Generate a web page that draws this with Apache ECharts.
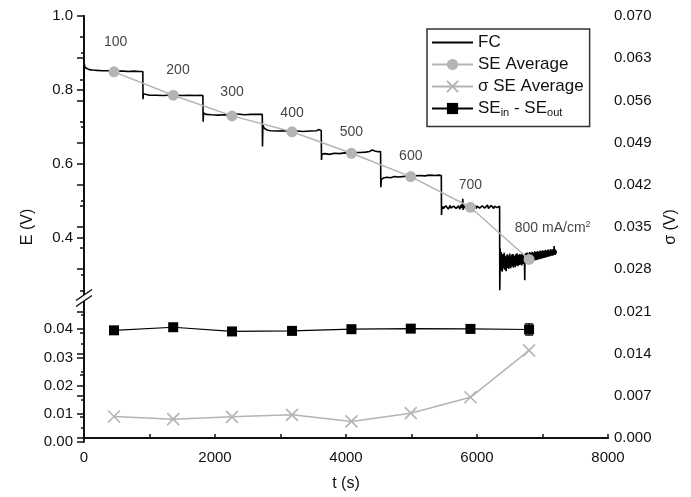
<!DOCTYPE html>
<html>
<head>
<meta charset="utf-8">
<script src="https://cdn.jsdelivr.net/npm/echarts@6/dist/echarts.min.js"></script>
<style>
  html, body { margin: 0; padding: 0; background: #fff; }
  #chart { width: 691px; height: 497px; }
</style>
</head>
<body>
<div id="chart"></div>
<script>
// Fuel-cell voltage trace [t (s), E (V)], one array per current-density step
const fcStep100 = [
  [0, 0.650], [3, 0.872], [15, 0.861], [40, 0.858], [80, 0.855], [130, 0.854], [200, 0.853],
  [280, 0.852], [360, 0.852], [440, 0.851], [520, 0.851], [600, 0.851], [680, 0.850],
  [760, 0.851], [840, 0.850], [898, 0.850]
];
const fcStep200 = [
  [901, 0.775], [906, 0.790], [930, 0.787], [1000, 0.786], [1100, 0.786], [1200, 0.785],
  [1300, 0.786], [1400, 0.786], [1500, 0.785], [1600, 0.786], [1700, 0.785], [1780, 0.786], [1815, 0.785]
];
const fcStep300 = [
  [1819, 0.714], [1825, 0.738], [1860, 0.734], [1950, 0.733], [2050, 0.732], [2150, 0.733],
  [2250, 0.731], [2300, 0.736], [2330, 0.733], [2450, 0.733], [2550, 0.734], [2650, 0.734], [2722, 0.734]
];
const fcStep400 = [
  [2725, 0.647], [2730, 0.705], [2750, 0.697], [2790, 0.692], [2850, 0.690], [2950, 0.689],
  [3050, 0.690], [3150, 0.688], [3250, 0.689], [3350, 0.688], [3450, 0.689], [3550, 0.690],
  [3590, 0.693], [3622, 0.690]
];
const fcStep500 = [
  [3626, 0.611], [3632, 0.627], [3680, 0.628], [3750, 0.626], [3820, 0.629], [3900, 0.628],
  [3980, 0.630], [4060, 0.629], [4140, 0.631], [4220, 0.631], [4300, 0.632], [4360, 0.634],
  [4400, 0.638], [4420, 0.641], [4440, 0.635], [4490, 0.633], [4528, 0.634]
];
const fcStep600 = [
  [4532, 0.537], [4538, 0.558], [4570, 0.562], [4620, 0.564], [4680, 0.563], [4740, 0.566],
  [4800, 0.565], [4860, 0.566], [4920, 0.567], [4980, 0.566], [5050, 0.568], [5120, 0.569],
  [5200, 0.568], [5280, 0.570], [5360, 0.569], [5420, 0.570], [5455, 0.569]
];
const fcStep700 = [
  [5458, 0.462], [5463, 0.478], [5475, 0.486], [5488, 0.480], [5500, 0.484], [5512, 0.479],
  [5525, 0.487], [5537, 0.482], [5550, 0.485], [5562, 0.478], [5575, 0.483], [5590, 0.488],
  [5602, 0.481], [5615, 0.484], [5630, 0.479], [5642, 0.486], [5655, 0.483], [5668, 0.489],
  [5680, 0.480], [5695, 0.485], [5708, 0.482], [5720, 0.487], [5735, 0.478], [5748, 0.484],
  [5760, 0.490], [5772, 0.481], [5783, 0.506], [5790, 0.476], [5802, 0.486], [5815, 0.482],
  [5828, 0.488], [5840, 0.480], [5855, 0.485], [5868, 0.483], [5880, 0.489], [5895, 0.479],
  [5908, 0.486], [5920, 0.482], [5935, 0.488], [5948, 0.481], [5960, 0.484], [5975, 0.487],
  [5988, 0.480], [6000, 0.486], [6015, 0.483], [6028, 0.489], [6040, 0.481], [6055, 0.485],
  [6068, 0.480], [6080, 0.487], [6095, 0.483], [6108, 0.488], [6120, 0.481], [6135, 0.486],
  [6148, 0.484], [6160, 0.489], [6175, 0.480], [6188, 0.485], [6200, 0.482], [6215, 0.488],
  [6228, 0.483], [6240, 0.487], [6255, 0.480], [6268, 0.486], [6280, 0.484], [6295, 0.489],
  [6308, 0.482], [6320, 0.486], [6333, 0.483], [6345, 0.486]
];
const fcStep800 = [
  [6348, 0.259], [6351, 0.300], [6354, 0.372], [6358, 0.330], [6362, 0.355], [6366, 0.312],
  [6370, 0.362], [6375, 0.325], [6380, 0.348], [6385, 0.309], [6390, 0.340], [6395, 0.357],
  [6400, 0.318], [6405, 0.346], [6410, 0.327], [6415, 0.360], [6420, 0.314], [6425, 0.338],
  [6430, 0.352], [6435, 0.321], [6440, 0.344], [6445, 0.310], [6450, 0.349], [6455, 0.330],
  [6460, 0.356], [6465, 0.319], [6470, 0.341], [6475, 0.326], [6480, 0.353], [6485, 0.316],
  [6490, 0.345], [6495, 0.333], [6500, 0.358], [6505, 0.322], [6510, 0.340], [6515, 0.318],
  [6520, 0.350], [6525, 0.328], [6530, 0.355], [6535, 0.323], [6540, 0.343], [6545, 0.331],
  [6550, 0.357], [6555, 0.320], [6560, 0.346], [6565, 0.334], [6570, 0.352], [6575, 0.325],
  [6580, 0.348], [6585, 0.321], [6590, 0.356], [6595, 0.331], [6600, 0.345], [6605, 0.326],
  [6610, 0.359], [6615, 0.329], [6620, 0.342], [6625, 0.324], [6630, 0.354], [6635, 0.335],
  [6640, 0.349], [6645, 0.327], [6650, 0.357], [6655, 0.332], [6660, 0.344], [6665, 0.328],
  [6670, 0.355], [6675, 0.336], [6680, 0.350], [6685, 0.326], [6690, 0.358], [6695, 0.333],
  [6700, 0.347], [6705, 0.330], [6710, 0.356], [6715, 0.337], [6720, 0.345], [6725, 0.331],
  [6729, 0.286], [6733, 0.348], [6738, 0.334], [6743, 0.359], [6748, 0.336], [6753, 0.350],
  [6758, 0.331], [6763, 0.361], [6768, 0.338], [6773, 0.352], [6778, 0.334], [6783, 0.358],
  [6788, 0.340], [6793, 0.349], [6798, 0.333], [6803, 0.362], [6808, 0.339], [6813, 0.353],
  [6818, 0.336], [6823, 0.360], [6828, 0.342], [6833, 0.351], [6838, 0.337], [6843, 0.363],
  [6848, 0.341], [6853, 0.355], [6858, 0.338], [6863, 0.361], [6868, 0.344], [6873, 0.352],
  [6878, 0.339], [6883, 0.364], [6888, 0.343], [6893, 0.357], [6898, 0.340], [6903, 0.362],
  [6908, 0.346], [6913, 0.354], [6918, 0.341], [6923, 0.365], [6928, 0.345], [6933, 0.358],
  [6938, 0.342], [6943, 0.363], [6948, 0.348], [6953, 0.356], [6958, 0.343], [6963, 0.366],
  [6968, 0.347], [6973, 0.359], [6978, 0.344], [6983, 0.364], [6988, 0.349], [6993, 0.357],
  [6998, 0.345], [7003, 0.367], [7008, 0.348], [7013, 0.360], [7018, 0.346], [7023, 0.365],
  [7028, 0.351], [7033, 0.358], [7038, 0.347], [7043, 0.368], [7048, 0.350], [7053, 0.361],
  [7058, 0.348], [7063, 0.366], [7068, 0.352], [7073, 0.359], [7078, 0.349], [7083, 0.369],
  [7088, 0.351], [7093, 0.362], [7098, 0.350], [7103, 0.367], [7108, 0.354], [7113, 0.360],
  [7118, 0.351], [7123, 0.370], [7128, 0.353], [7133, 0.363], [7138, 0.352], [7143, 0.368],
  [7148, 0.355], [7153, 0.362], [7158, 0.352], [7163, 0.370], [7168, 0.356], [7173, 0.364],
  [7178, 0.378], [7183, 0.355], [7188, 0.366], [7193, 0.354], [7198, 0.369], [7203, 0.357],
  [7208, 0.364], [7213, 0.360]
];

// Mid-step sampling times (s) shared by the averaged quantities
const sampleTime = [458, 1362, 2260, 3176, 4083, 4989, 5900, 6795];
// Averaged single-electrode potential (V, left upper axis)
const seAverage = [0.849, 0.786, 0.730, 0.687, 0.629, 0.566, 0.483, 0.342];
// Standard deviation of the single-electrode potentials (V, right axis)
const seSigma = [0.00357, 0.00313, 0.00351, 0.00384, 0.00275, 0.00412, 0.00675, 0.01454];
// Inlet minus outlet single-electrode potential (V, left lower axis) and its error
const seDiff = [0.0396, 0.0407, 0.0392, 0.0394, 0.0400, 0.0402, 0.0401, 0.0399];
const seDiffErr = [0.0004, 0.0008, 0.0003, 0.0003, 0.0004, 0.0003, 0.0003, 0.0020];

// Current density annotations for each step
const stepLabels = ['100', '200', '300', '400', '500', '600', '700', '800 mA/cm{sup|2}'];
const stepLabelTime = [484, 1435, 2260, 3176, 4083, 4989, 5900, 6577];
const stepLabelVolt = [0.929, 0.854, 0.795, 0.737, 0.685, 0.620, 0.543, 0.426];

// Axis tick values
const upperMajor = [0.4, 0.6, 0.8, 1.0];
const upperMinor = [0.3, 0.5, 0.7, 0.9];
const lowerMajor = [0.00, 0.01, 0.02, 0.03, 0.04];
const lowerMinor = [0.005, 0.015, 0.025, 0.035, 0.045];

const fcTrace = [].concat(fcStep100, fcStep200, fcStep300, fcStep400,
                          fcStep500, fcStep600, fcStep700, fcStep800);

const FONT = 'Liberation Sans, Arial, sans-serif';
const INK = '#111';
const GREY = '#b4b4b4';
const TICK_FONT = 15;

const chart = echarts.init(document.getElementById('chart'), null, { renderer: 'canvas' });

const L = 84, R = 83, TOP = 16, BOTTOM = 55;
const upperBottomY = 293.5, lowerTopY = 301;

const hiddenX = (gridIndex) => ({
  type: 'value', gridIndex: gridIndex, min: 0, max: 8000, show: false
});

const lineAxis = { show: true, lineStyle: { color: INK, width: 1.8 } };
const tickLine = { color: INK, width: 1.5 };

const option = {
  animation: false,
  textStyle: { fontFamily: FONT },
  grid: [
    { left: L, right: R, top: TOP, height: upperBottomY - TOP },
    { left: L, right: R, top: lowerTopY, height: 497 - BOTTOM - lowerTopY },
    { left: L, right: R, top: TOP, bottom: BOTTOM }
  ],
  xAxis: [
    hiddenX(0),
    hiddenX(1),
    {
      type: 'value', gridIndex: 2, min: 0, max: 8000, interval: 2000, position: 'bottom',
      axisLine: lineAxis,
      axisTick: { show: true, inside: true, length: 4, lineStyle: tickLine },
      minorTick: { show: true, splitNumber: 2, length: 4, lineStyle: tickLine },
      axisLabel: { color: INK, fontSize: TICK_FONT, fontFamily: FONT, margin: 12,
                   formatter: (v) => String(v) },
      splitLine: { show: false },
      name: 't (s)', nameLocation: 'middle', nameGap: 38,
      nameTextStyle: { color: INK, fontSize: 16, fontFamily: FONT }
    },
    {
      type: 'value', gridIndex: 2, min: 0, max: 8000, position: 'top',
      axisLine: lineAxis, axisTick: { show: false }, axisLabel: { show: false },
      splitLine: { show: false }
    }
  ],
  yAxis: [
    {
      type: 'value', gridIndex: 0, min: 0.25, max: 1.0, position: 'left',
      axisLine: lineAxis,
      axisTick: { show: true, length: 7, customValues: upperMajor, lineStyle: tickLine },
      axisLabel: {
        customValues: upperMajor, color: INK, fontSize: TICK_FONT, fontFamily: FONT, margin: 11,
        formatter: (v) => v.toFixed(1)
      },
      splitLine: { show: false }
    },
    {
      type: 'value', gridIndex: 0, min: 0.25, max: 1.0, position: 'left',
      axisLine: { show: false },
      axisTick: { show: true, length: 3, customValues: upperMinor, lineStyle: tickLine },
      axisLabel: { show: false },
      splitLine: { show: false }
    },
    {
      type: 'value', gridIndex: 1, min: 0, max: 0.05, position: 'left',
      axisLine: lineAxis,
      axisTick: { show: true, length: 7, customValues: lowerMajor, lineStyle: tickLine },
      axisLabel: {
        customValues: lowerMajor, color: INK, fontSize: TICK_FONT, fontFamily: FONT, margin: 11,
        formatter: (v) => v.toFixed(2)
      },
      splitLine: { show: false }
    },
    {
      type: 'value', gridIndex: 1, min: 0, max: 0.05, position: 'left',
      axisLine: { show: false },
      axisTick: { show: true, length: 3, customValues: lowerMinor, lineStyle: tickLine },
      axisLabel: { show: false },
      splitLine: { show: false }
    },
    {
      type: 'value', gridIndex: 2, min: 0, max: 0.07, interval: 0.007, position: 'right',
      axisLine: lineAxis,
      axisTick: { show: true, inside: true, length: 7, lineStyle: tickLine },
      minorTick: { show: true, splitNumber: 2, length: 4, lineStyle: tickLine },
      axisLabel: {
        color: INK, fontSize: TICK_FONT, fontFamily: FONT, margin: 6,
        formatter: (v) => v.toFixed(3)
      },
      splitLine: { show: false },
      name: 'σ (V)', nameLocation: 'middle', nameGap: 53, nameRotate: 90,
      nameTextStyle: { color: INK, fontSize: 16, fontFamily: FONT }
    },
    {
      type: 'value', gridIndex: 2, min: 0, max: 1, position: 'left',
      axisLine: { show: false }, axisTick: { show: false }, axisLabel: { show: false },
      splitLine: { show: false },
      name: 'E (V)', nameLocation: 'middle', nameGap: 48, nameRotate: 90,
      nameTextStyle: { color: INK, fontSize: 16, fontFamily: FONT }
    }
  ],
  legend: {
    orient: 'vertical', left: 427, top: 29,
    padding: [5, 6, 8, 4], itemGap: 5, itemWidth: 41, itemHeight: 14,
    borderColor: '#333', borderWidth: 1.5, backgroundColor: '#fff',
    data: ['FC', 'SE Average', 'σ SE Average', 'SEin - SEout'],
    formatter: (name) => name === 'SEin - SEout'
      ? '{m|SE}{s|in}{m| - SE}{s|out}' : name,
    textStyle: {
      color: INK, fontSize: 17, fontFamily: FONT,
      rich: {
        m: { fontSize: 17, fontFamily: FONT, color: INK },
        s: { fontSize: 11, fontFamily: FONT, color: INK, verticalAlign: 'bottom', padding: [9, 0, 0, 0] }
      }
    }
  },
  graphic: [
    // axis break on the left axis
    {
      type: 'polygon', silent: true, z: 100,
      shape: { points: [[76, 300.5], [92, 289.5], [92, 295.5], [76, 306.5]] },
      style: { fill: '#fff' }
    },
    {
      type: 'line', silent: true, z: 101,
      shape: { x1: 76, y1: 300.5, x2: 92, y2: 289.5 },
      style: { stroke: INK, lineWidth: 1.5 }
    },
    {
      type: 'line', silent: true, z: 101,
      shape: { x1: 76, y1: 306.5, x2: 92, y2: 295.5 },
      style: { stroke: INK, lineWidth: 1.5 }
    }
  ],
  series: [
    {
      name: 'FC', type: 'line', xAxisIndex: 0, yAxisIndex: 0,
      data: fcTrace,
      symbol: 'none', clip: false,
      lineStyle: { color: '#000', width: 1.6 }, itemStyle: { color: 'rgba(0,0,0,0)' }, z: 2
    },
    {
      name: 'SE Average', type: 'line', xAxisIndex: 0, yAxisIndex: 0,
      data: sampleTime.map((t, i) => [t, seAverage[i]]),
      symbol: 'circle', symbolSize: 11,
      lineStyle: { color: GREY, width: 1.5 }, itemStyle: { color: GREY }, z: 3
    },
    {
      name: 'σ SE Average', type: 'line', xAxisIndex: 2, yAxisIndex: 4,
      data: sampleTime.map((t, i) => [t, seSigma[i]]),
      symbol: 'path://M0,0L10,10M10,0L0,10', symbolSize: 12,
      lineStyle: { color: GREY, width: 1.5 },
      itemStyle: { color: 'rgba(0,0,0,0)', borderColor: GREY, borderWidth: 1.6 }, z: 3
    },
    {
      name: 'SE difference error', type: 'custom', xAxisIndex: 1, yAxisIndex: 2,
      data: sampleTime.map((t, i) => [t, seDiff[i], seDiffErr[i]]),
      renderItem: (params, api) => {
        const t = api.value(0), v = api.value(1), e = api.value(2);
        const hi = api.coord([t, v + e]);
        const lo = api.coord([t, v - e]);
        const w = 4;
        const st = { stroke: '#000', lineWidth: 1.2 };
        return {
          type: 'group',
          children: [
            { type: 'line', shape: { x1: hi[0], y1: hi[1], x2: lo[0], y2: lo[1] }, style: st },
            { type: 'line', shape: { x1: hi[0] - w, y1: hi[1], x2: hi[0] + w, y2: hi[1] }, style: st },
            { type: 'line', shape: { x1: lo[0] - w, y1: lo[1], x2: lo[0] + w, y2: lo[1] }, style: st }
          ]
        };
      },
      z: 3
    },
    {
      name: 'SEin - SEout', type: 'line', xAxisIndex: 1, yAxisIndex: 2,
      data: sampleTime.map((t, i) => [t, seDiff[i]]),
      symbol: 'rect', symbolSize: 10,
      lineStyle: { color: '#000', width: 1.2 }, itemStyle: { color: '#000' }, z: 4
    },
    {
      name: 'steps', type: 'scatter', xAxisIndex: 0, yAxisIndex: 0, silent: true,
      symbolSize: 1, itemStyle: { color: 'rgba(0,0,0,0)' },
      data: stepLabels.map((s, i) => ({
        name: s, value: [stepLabelTime[i], stepLabelVolt[i]],
        label: i === stepLabels.length - 1 ? { align: 'left' } : {}
      })),
      label: {
        show: true, position: 'inside', formatter: (p) => p.name,
        color: INK, fontSize: 14, fontFamily: FONT,
        rich: {
          sup: { fontSize: 9, fontFamily: FONT, color: INK, verticalAlign: 'top', padding: [0, 0, 7, 0] }
        }
      },
      z: 5
    }
  ]
};

chart.setOption(option);
</script>
</body>
</html>
